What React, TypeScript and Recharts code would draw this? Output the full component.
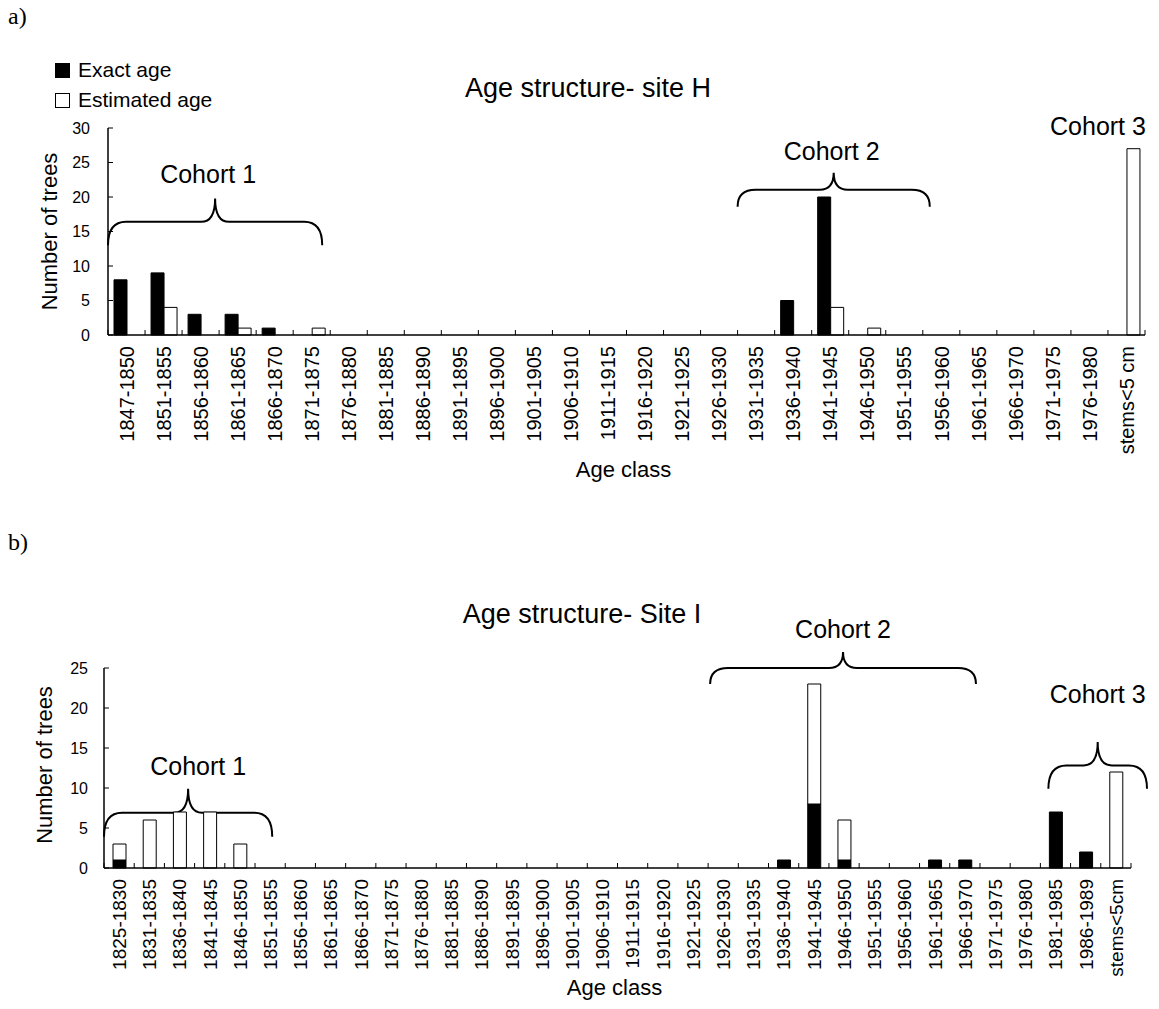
import React from 'react';
import { BarChart, Bar, XAxis, YAxis, Legend, ReferenceArea } from 'recharts';

// Site H (panel a)
const siteHClasses = [
  '1847-1850', '1851-1855', '1856-1860', '1861-1865', '1866-1870', '1871-1875',
  '1876-1880', '1881-1885', '1886-1890', '1891-1895', '1896-1900', '1901-1905',
  '1906-1910', '1911-1915', '1916-1920', '1921-1925', '1926-1930', '1931-1935',
  '1936-1940', '1941-1945', '1946-1950', '1951-1955', '1956-1960', '1961-1965',
  '1966-1970', '1971-1975', '1976-1980', 'stems<5 cm',
];
const siteHExact = [8, 9, 3, 3, 1, 0, 0, 0, 0, 0, 0, 0, 0, 0, 0, 0, 0, 0, 5, 20, 0, 0, 0, 0, 0, 0, 0, 0];
const siteHEstimated = [0, 4, 0, 1, 0, 1, 0, 0, 0, 0, 0, 0, 0, 0, 0, 0, 0, 0, 0, 4, 1, 0, 0, 0, 0, 0, 0, 27];
const siteHTicks = [0, 5, 10, 15, 20, 25, 30];

// Site I (panel b)
const siteIClasses = [
  '1825-1830', '1831-1835', '1836-1840', '1841-1845', '1846-1850', '1851-1855',
  '1856-1860', '1861-1865', '1866-1870', '1871-1875', '1876-1880', '1881-1885',
  '1886-1890', '1891-1895', '1896-1900', '1901-1905', '1906-1910', '1911-1915',
  '1916-1920', '1921-1925', '1926-1930', '1931-1935', '1936-1940', '1941-1945',
  '1946-1950', '1951-1955', '1956-1960', '1961-1965', '1966-1970', '1971-1975',
  '1976-1980', '1981-1985', '1986-1989', 'stems<5cm',
];
const siteIExact = [1, 0, 0, 0, 0, 0, 0, 0, 0, 0, 0, 0, 0, 0, 0, 0, 0, 0, 0, 0, 0, 0, 1, 8, 1, 0, 0, 1, 1, 0, 0, 7, 2, 0];
const siteIEstimated = [2, 6, 7, 7, 3, 0, 0, 0, 0, 0, 0, 0, 0, 0, 0, 0, 0, 0, 0, 0, 0, 0, 0, 15, 5, 0, 0, 0, 0, 0, 0, 0, 0, 12];
const siteITicks = [0, 5, 10, 15, 20, 25];

const siteHData = siteHClasses.map((c, i) => ({ ageClass: c, exact: siteHExact[i], estimated: siteHEstimated[i] }));
const siteIData = siteIClasses.map((c, i) => ({ ageClass: c, exact: siteIExact[i], estimated: siteIEstimated[i] }));

const FONT = '"Liberation Sans", Arial, sans-serif';

const makeXTick = (fontSize: number, count: number) => (props: any) => {
  const { x, y, payload, index } = props;
  const half = payload.offset || 0;
  return (
    <g>
      <line x1={x - half} x2={x - half} y1={y} y2={y - 5} stroke="#000" />
      {index === count - 1 && <line x1={x + half} x2={x + half} y1={y} y2={y - 5} stroke="#000" />}
      <text
        transform={`translate(${x},${y + 11}) rotate(-90)`}
        textAnchor="end"
        dy="0.36em"
        fontSize={fontSize}
        fontFamily={FONT}
        fill="#000"
      >
        {payload.value}
      </text>
    </g>
  );
};

const makeYTick = (gap: number) => (props: any) => {
  const { x, y, payload } = props;
  return (
    <g>
      <line x1={x} x2={x + 5} y1={y} y2={y} stroke="#000" />
      <text x={x - gap} y={y} dy="0.36em" textAnchor="end" fontSize={16} fontFamily={FONT} fill="#000">
        {payload.value}
      </text>
    </g>
  );
};

type CohortOpts = {
  text: string;
  brace?: boolean;
  dx1?: number;
  dx2?: number;
  textDx?: number;
  textGap?: number;
};

const cohortShape = (opts: CohortOpts) => (props: any) => {
  const { x, y, width, height } = props;
  const left = x + (opts.dx1 || 0);
  const right = x + width + (opts.dx2 || 0);
  const cx = (left + right) / 2;
  const mid = y + height / 2;
  const bottom = y + height;
  const r = Math.min(18, (right - left) / 5);
  const c = Math.min(14, (right - left) / 7);
  const d = `M${left},${bottom} Q${left},${mid} ${left + r},${mid} L${cx - c},${mid} Q${cx},${mid} ${cx},${y} Q${cx},${mid} ${cx + c},${mid} L${right - r},${mid} Q${right},${mid} ${right},${bottom}`;
  return (
    <g>
      {opts.brace !== false && <path d={d} fill="none" stroke="#000" strokeWidth={2} />}
      <text
        x={cx + (opts.textDx || 0)}
        y={y - (opts.textGap || 0)}
        textAnchor="middle"
        fontSize={25}
        fontFamily={FONT}
        fill="#000"
      >
        {opts.text}
      </text>
    </g>
  );
};

const LegendBox = (props: any) => (
  <div style={{ fontFamily: FONT, fontSize: 21, color: '#000' }}>
    {(props.payload || []).map((p: any) => (
      <div key={p.value} style={{ display: 'flex', alignItems: 'center', height: 30 }}>
        <span
          style={{
            display: 'inline-block',
            width: 13,
            height: 13,
            border: '1px solid #000',
            background: p.color,
            marginRight: 8,
          }}
        />
        {p.value}
      </div>
    ))}
  </div>
);

const App: React.FC = () => {
  return (
    <div style={{ position: 'absolute', left: 0, top: 0, width: 1159, height: 1009, background: '#fff', fontFamily: FONT }}>
      {/* a) site H, grouped bars */}
      <div style={{ position: 'absolute', left: 0, top: 0 }}>
        <BarChart
          width={1159}
          height={490}
          data={siteHData}
          margin={{ top: 128, right: 14, left: 38, bottom: 5 }}
          barGap={0}
          barSize={13}
        >
          <XAxis
            dataKey="ageClass"
            interval={0}
            height={150}
            tickSize={0}
            tickMargin={0}
            tickLine={false}
            axisLine={{ stroke: '#000', strokeWidth: 1.5 }}
            tick={makeXTick(20, siteHClasses.length)}
            label={{ value: 'Age class', position: 'insideBottom', offset: 8, dx: -3, fontSize: 22, fill: '#000', fontFamily: FONT }}
          />
          <YAxis
            domain={[0, 30]}
            ticks={siteHTicks}
            interval={0}
            width={70}
            tickSize={0}
            tickMargin={0}
            tickLine={false}
            axisLine={{ stroke: '#000', strokeWidth: 1.5 }}
            tick={makeYTick(18)}
            label={{ value: 'Number of trees', angle: -90, position: 'center', dx: -24, fontSize: 22, fill: '#000', fontFamily: FONT }}
          />
          <Legend
            layout="vertical"
            align="center"
            verticalAlign="middle"
            content={LegendBox}
            itemSorter={(item: any) => (item.dataKey === 'exact' ? 0 : 1)}
            wrapperStyle={{ top: 55, left: 55, width: 'auto', height: 'auto' }}
          />
          <Bar dataKey="exact" name="Exact age" fill="#000" stroke="#000" isAnimationActive={false} />
          <Bar dataKey="estimated" name="Estimated age" fill="#fff" stroke="#000" strokeWidth={1} isAnimationActive={false} />
          <ReferenceArea x1="1847-1850" x2="1871-1875" y1={13} y2={19.8} ifOverflow="visible"
            shape={cohortShape({ text: 'Cohort 1', dx2: -8, textDx: -7, textGap: 15 })} />
          <ReferenceArea x1="1931-1935" x2="1951-1955" y1={18.6} y2={23.5} ifOverflow="visible"
            shape={cohortShape({ text: 'Cohort 2', dx2: 7, textDx: -2, textGap: 13 })} />
          <ReferenceArea x1="1976-1980" x2="stems<5 cm" y1={28} y2={29} ifOverflow="visible"
            shape={cohortShape({ text: 'Cohort 3', brace: false, textDx: -10, textGap: 0 })} />
        </BarChart>
      </div>

      {/* b) site I, stacked bars */}
      <div style={{ position: 'absolute', left: 0, top: 520 }}>
        <BarChart
          width={1159}
          height={489}
          data={siteIData}
          margin={{ top: 148, right: 28, left: 34, bottom: 5 }}
          barSize={13}
        >
          <XAxis
            dataKey="ageClass"
            interval={0}
            height={136}
            tickSize={0}
            tickMargin={0}
            tickLine={false}
            axisLine={{ stroke: '#000', strokeWidth: 1.5 }}
            tick={makeXTick(19, siteIClasses.length)}
            label={{ value: 'Age class', position: 'insideBottom', offset: 9, dx: -3, fontSize: 22, fill: '#000', fontFamily: FONT }}
          />
          <YAxis
            domain={[0, 25]}
            ticks={siteITicks}
            interval={0}
            width={70}
            tickSize={0}
            tickMargin={0}
            tickLine={false}
            axisLine={{ stroke: '#000', strokeWidth: 1.5 }}
            tick={makeYTick(16)}
            label={{ value: 'Number of trees', angle: -90, position: 'center', dx: -25, dy: -3, fontSize: 22, fill: '#000', fontFamily: FONT }}
          />
          <Bar dataKey="exact" name="Exact age" stackId="age" fill="#000" stroke="#000" isAnimationActive={false} />
          <Bar dataKey="estimated" name="Estimated age" stackId="age" fill="#fff" stroke="#000" strokeWidth={1} isAnimationActive={false} />
          <ReferenceArea x1="1825-1830" x2="1851-1855" y1={3.9} y2={9.9} ifOverflow="visible"
            shape={cohortShape({ text: 'Cohort 1', dx2: -13, textDx: 10, textGap: 14 })} />
          <ReferenceArea x1="1926-1930" x2="1966-1970" y1={23} y2={27} ifOverflow="visible"
            shape={cohortShape({ text: 'Cohort 2', dx1: 2, dx2: -4, textGap: 14 })} />
          <ReferenceArea x1="1981-1985" x2="stems<5cm" y1={9.9} y2={15.75} ifOverflow="visible"
            shape={cohortShape({ text: 'Cohort 3', dx1: 8, dx2: 16, textGap: 39 })} />
        </BarChart>
      </div>

      {/* panel letters and titles */}
      <svg width={1159} height={1009} style={{ position: 'absolute', left: 0, top: 0, pointerEvents: 'none' }}>
        <text x={8} y={24} fontSize={24} fontFamily='"Liberation Serif", "Times New Roman", serif' fill="#000">a)</text>
        <text x={8} y={550} fontSize={24} fontFamily='"Liberation Serif", "Times New Roman", serif' fill="#000">b)</text>
        <text x={588} y={97} textAnchor="middle" fontSize={27} fontFamily={FONT} fill="#000">Age structure- site H</text>
        <text x={582} y={623} textAnchor="middle" fontSize={27} fontFamily={FONT} fill="#000">Age structure- Site I</text>
      </svg>
    </div>
  );
};

export default App;
